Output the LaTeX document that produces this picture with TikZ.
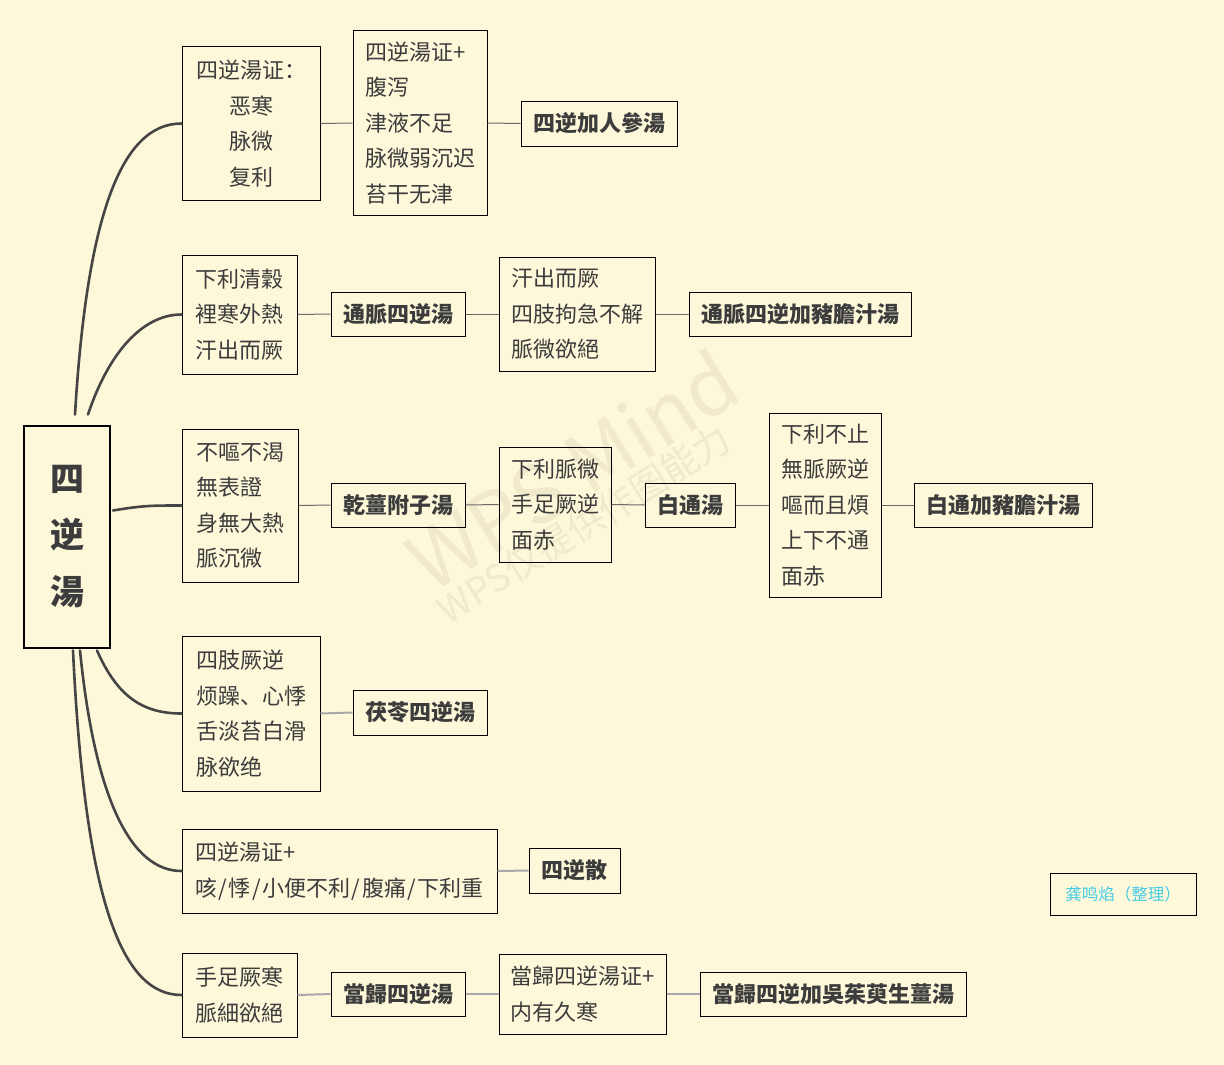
\documentclass[tikz,border=0pt]{standalone}
\usepackage{fontspec}
\setmainfont{Noto Sans CJK SC}
\usetikzlibrary{calc}
\definecolor{bg}{HTML}{FEF8DA}
\definecolor{txt}{HTML}{3C3C3C}
\definecolor{branchc}{HTML}{454545}
\definecolor{connc}{HTML}{6A6A6A}
\definecolor{connl}{HTML}{A8A8A8}
\definecolor{wm}{HTML}{F0E9CC}
\definecolor{author}{HTML}{45CDE3}
\newcommand{\myslash}{\kern1.5pt/\kern1.5pt}
\begin{document}
\begin{tikzpicture}[x=1pt,y=-1pt,
  box/.style={draw=black, line width=1pt, inner sep=0pt, text=txt,
    font=\fontsize{22}{35.5}\selectfont, align=left},
  hbox/.style={box, font=\bfseries\fontsize{22}{35.5}\selectfont},
  branch/.style={draw=branchc, line width=2.6pt, line cap=round},
  conn/.style={draw=connc, line width=1pt},
  connlight/.style={draw=connl, line width=2pt},
  wmark/.style={text=wm, rotate=32, inner sep=0pt}]
\fill[bg] (0,0) rectangle (1224,1065);
\useasboundingbox (0,0) rectangle (1224,1065);

% watermark
\node[wmark, font=\fontsize{80}{80}\selectfont] (wm1) at (572,470) {WPS Mind};
\node[wmark, font=\fontsize{37}{37}\selectfont] (wm2) at (584,524) {WPS仅提供作图能力};

% root
\node[draw=black, line width=2pt, inner sep=0pt, minimum width=86pt, minimum height=222pt,
  font=\bfseries\fontsize{34}{56.5}\selectfont, text=txt, align=center] (root) at (67,536.5) {四\\逆\\湯};

% branch 1
\node[box, align=center, minimum width=138pt, minimum height=153pt] (A1) at (251,123.5) {四逆湯证：\\恶寒\\脉微\\复利};
\node[box, minimum width=134pt, minimum height=184pt] (A2) at (420,123) {四逆湯证+\\腹泻\\津液不足\\脉微弱沉迟\\苔干无津};
\node[hbox, minimum width=156pt, minimum height=45pt] (A3) at (599,123.5) {四逆加人參湯};

% branch 2
\node[box, minimum width=115pt, minimum height=119pt] (B1) at (239.5,314.5) {下利清穀\\裡寒外熱\\汗出而厥};
\node[hbox, minimum width=134pt, minimum height=44pt] (B2) at (398,314) {通脈四逆湯};
\node[box, minimum width=156pt, minimum height=114pt] (B3) at (577,314) {汗出而厥\\四肢拘急不解\\脈微欲絕};
\node[hbox, minimum width=222pt, minimum height=44pt] (B4) at (800,314) {通脈四逆加豬膽汁湯};

% branch 3
\node[box, minimum width=116pt, minimum height=153pt] (C1) at (240,505.5) {不嘔不渴\\無表證\\身無大熱\\脈沉微};
\node[hbox, minimum width=134pt, minimum height=44pt] (C2) at (398,505) {乾薑附子湯};
\node[box, minimum width=112pt, minimum height=115pt] (C3) at (555,504.5) {下利脈微\\手足厥逆\\面赤};
\node[hbox, minimum width=90pt, minimum height=44pt] (C4) at (690,505) {白通湯};
\node[box, minimum width=112pt, minimum height=184pt] (C5) at (825,505) {下利不止\\無脈厥逆\\嘔而且煩\\上下不通\\面赤};
\node[hbox, minimum width=178pt, minimum height=44pt] (C6) at (1003,505) {白通加豬膽汁湯};

% branch 4
\node[box, minimum width=138pt, minimum height=155pt] (D1) at (251,713.5) {四肢厥逆\\烦躁、心悸\\舌淡苔白滑\\脉欲绝};
\node[hbox, minimum width=134pt, minimum height=45pt] (D2) at (420,712.5) {茯苓四逆湯};

% branch 5
\node[box, minimum width=315pt, minimum height=84pt] (E1) at (339.5,871) {四逆湯证+\\咳\myslash 悸\myslash 小便不利\myslash 腹痛\myslash 下利重};
\node[hbox, minimum width=91pt, minimum height=45pt] (E2) at (574.5,870.5) {四逆散};

% branch 6
\node[box, minimum width=115pt, minimum height=84pt] (F1) at (239.5,995) {手足厥寒\\脈細欲絕};
\node[hbox, minimum width=134pt, minimum height=44pt] (F2) at (398,994) {當歸四逆湯};
\node[box, minimum width=167pt, minimum height=80pt] (F3) at (582.5,994) {當歸四逆湯证+\\内有久寒};
\node[hbox, minimum width=266pt, minimum height=44pt] (F4) at (833,994) {當歸四逆加吳茱萸生薑湯};

% author
\node[draw=black, line width=1pt, inner sep=0pt, minimum width=146pt, minimum height=42pt,
  text=author, font=\fontsize{16.5}{20}\selectfont] (auth) at (1123,894) {龚鸣焰（整理）};

% main branches
\draw[branch] ($(root.north)+(8,-10)$) .. controls +(12,-200) and +(-60,0) .. (A1.west);
\draw[branch] ($(root.north)+(21,-10)$) .. controls +(20,-60) and +(-40,0) .. (B1.west);
\draw[branch] ($(root.east)+(2,-26)$) .. controls +(30,-5) and +(-30,0) .. (C1.west);
\draw[branch] ($(root.south)+(30,2)$) .. controls +(20,45) and +(-40,0) .. (D1.west);
\draw[branch] ($(root.south)+(13,2)$) .. controls +(15,150) and +(-50,0) .. (E1.west);
\draw[branch] ($(root.south)+(6,2)$) .. controls +(12,250) and +(-60,0) .. (F1.west);

% connectors
\draw[conn] (A1.east) -- (A2.west);
\draw[conn] (A2.east) -- (A3.west);
\draw[conn] (B1.east) -- (B2.west);
\draw[conn] (B2.east) -- (B3.west);
\draw[conn] (B3.east) -- (B4.west);
\draw[conn] (C1.east) -- (C2.west);
\draw[conn] (C2.east) -- (C3.west);
\draw[conn] (C3.east) -- (C4.west);
\draw[conn] (C4.east) -- (C5.west);
\draw[conn] (C5.east) -- (C6.west);
\draw[connlight] (D1.east) -- (D2.west);
\draw[connlight] (E1.east) -- (E2.west);
\draw[connlight] (F1.east) -- (F2.west);
\draw[connlight] (F2.east) -- (F3.west);
\draw[connlight] (F3.east) -- (F4.west);
\end{tikzpicture}
\end{document}
